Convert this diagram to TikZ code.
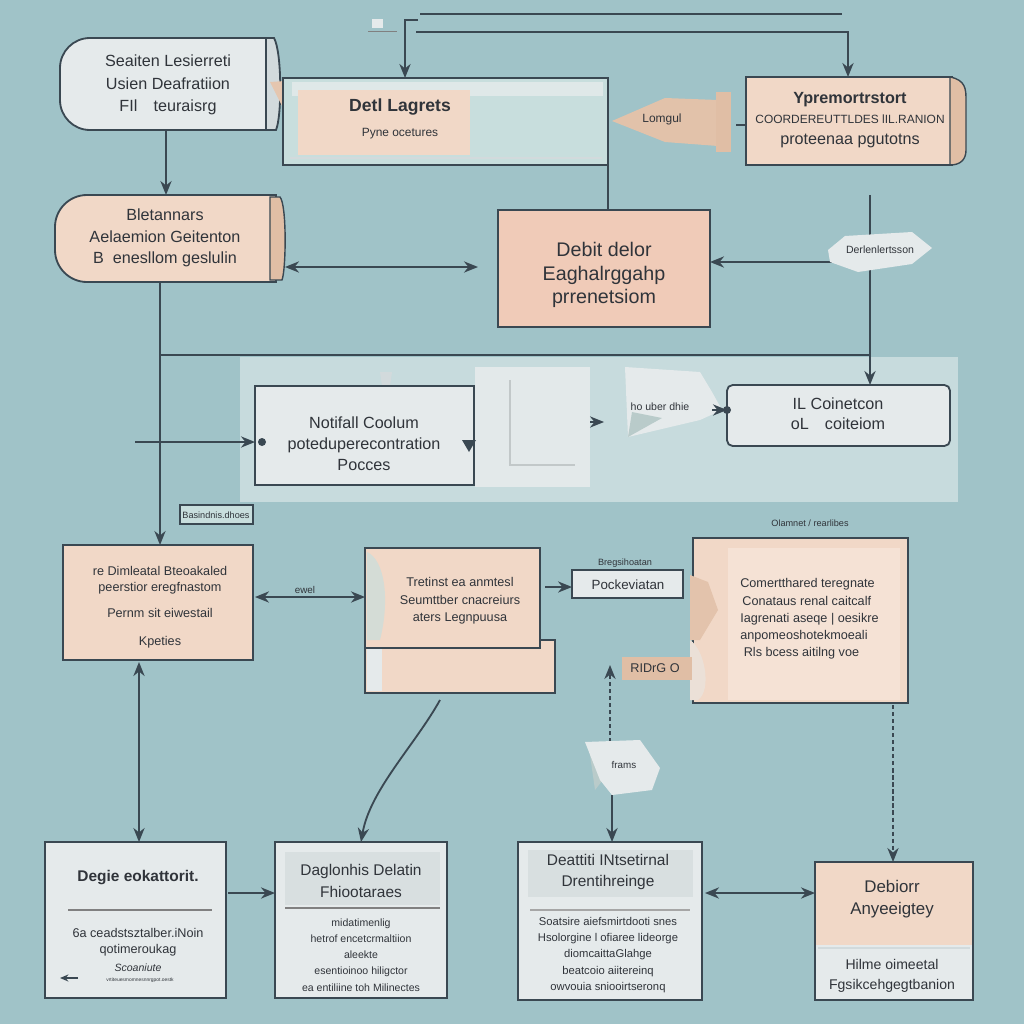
\documentclass[tikz,border=0pt]{standalone}
\usepackage{fontspec}
\setmainfont{Liberation Sans}
\usetikzlibrary{fit,arrows.meta,calc}
\definecolor{bg}{RGB}{160,195,200}
\definecolor{peach}{RGB}{241,216,199}
\definecolor{peachd}{RGB}{240,203,184}
\definecolor{peachl}{RGB}{245,226,213}
\definecolor{curl}{RGB}{224,190,165}
\definecolor{light}{RGB}{229,234,235}
\definecolor{lightd}{RGB}{210,218,220}
\definecolor{lightb}{RGB}{200,222,221}
\definecolor{panel}{RGB}{199,219,221}
\definecolor{edge}{RGB}{58,72,82}
\definecolor{txt}{RGB}{48,52,58}
\newcommand{\fsz}[2]{\fontsize{#1}{#2}\selectfont}
\tikzset{
  line/.style={draw=edge, line width=1.3pt},
  arr/.style={draw=edge, line width=1.3pt, -{Stealth[length=10pt,width=8pt]}},
  darr/.style={draw=edge, line width=1.3pt, {Stealth[length=10pt,width=8pt]}-{Stealth[length=10pt,width=8pt]}},
  frame/.style={inner sep=0pt, outer sep=0pt},
  boxp/.style={frame, draw=edge, line width=1.3pt, fill=peach},
  boxg/.style={frame, draw=edge, line width=1.3pt, fill=light},
  txt/.style={text=txt, align=center, inner sep=0pt},
  tag/.style={frame, draw=edge, line width=0.8pt},
}
\begin{document}
\begin{tikzpicture}[x=0.025cm, y=-0.025cm]
\fill[bg] (0,0) rectangle (1024,1024);
\useasboundingbox (0,0) rectangle (1024,1024);

% ---------- top lines
\coordinate (t0) at (420,14); \coordinate (t1) at (842,14);
\coordinate (tl) at (418,20); \coordinate (tk) at (405,20);
\coordinate (tr) at (416,32); \coordinate (tc) at (848,32);
\fill[light] (372,19) rectangle (383,28);
\draw[gray, line width=0.4pt] (368,31) -- (397,31);

% ---------- box A
\filldraw[fill=light, draw=edge, line width=1.3pt] (270,38) [rounded corners=0.75cm] -- (60,38) -- (60,130) [sharp corners] -- (270,130) -- cycle;
\filldraw[fill=lightd, draw=edge, line width=1.3pt] (266,38) -- (274,38) .. controls (282,52) and (282,116) .. (276,130) -- (266,130) -- cycle;
\node[frame, fit={(60,38) (278,130)}] (A) {};
\node[txt, font=\fsz{11.5}{16}] (At) at (168,85) {Seaiten Lesierreti\\Usien Deafratiion\\FIl\quad teuraisrg};

% ---------- box B
\fill[curl!70!peach] (270,82) -- (300,80) -- (300,108) -- (284,110) -- cycle;
\node[frame, draw=edge, line width=1.3pt, fill=lightb, fit={(283,78) (608,165)}] (B) {};
\fill[light!80!lightb] (292,82) rectangle (603,96);
\fill[peach] (298,90) rectangle (470,155);
\draw[lightd, line width=1pt] (290,158) -- (602,158);
\node[txt] (Bt) at (400,119) {{\fsz{12.5}{16}\bfseries Detl Lagrets}\\[6pt]{\fsz{8.5}{10}Pyne ocetures}};

% ---------- box C
\node[frame, fit={(746,77) (965,165)}] (C) {};
\filldraw[fill=peach, draw=edge, line width=1.3pt] (746,77) rectangle (952,165);
\filldraw[fill=curl, draw=edge, line width=1pt] (950,77) .. controls (966,80) and (966,90) .. (966,100) -- (966,150) .. controls (966,160) and (960,165) .. (950,165) -- cycle;
\node[txt] (Ct) at (850,120) {{\fsz{11.5}{14}\bfseries Ypremortrstort}\\[2pt]{\fsz{8.5}{10}COORDEREUTTLDES lIL.RANION}\\[3pt]{\fsz{11.5}{14}proteenaa pgutotns}};

% pennant
\fill[curl!85!peach] (612,121) -- (665,98) -- (718,100) -- (718,146) -- (665,142) -- cycle;
\fill[curl] (716,92) rectangle (731,152);
\node[txt, font=\fsz{8.5}{10}] (Fl) at (662,119) {Lomgul};
\coordinate (flE) at (736,125);

% ---------- box D
\filldraw[fill=peach, draw=edge, line width=1.3pt] (276,195) [rounded corners=0.8cm] -- (55,195) -- (55,282) [sharp corners] -- (276,282) -- cycle;
\filldraw[fill=curl, draw=edge, line width=1pt] (270,197) -- (280,197) .. controls (287,205) and (286,270) .. (282,280) -- (270,280) -- cycle;
\node[frame, fit={(55,195) (285,282)}] (D) {};
\node[txt, font=\fsz{11.5}{15.5}] (Dt) at (165,238) {Bletannars\\Aelaemion Geitenton\\B\; enesllom geslulin};

% ---------- box E
\node[frame, draw=edge, line width=1.3pt, fill=peachd, fit={(498,210) (710,327)}] (E) {};
\node[txt, font=\fsz{14}{16.5}] (Et) at (604,275) {Debit delor\\Eaghalrggahp\\prrenetsiom};

% ---------- middle panel
\fill[panel] (240,357) rectangle (958,502);
\fill[light!92!panel] (475,367) rectangle (590,487);
\node[frame, fit={(475,367) (590,487)}] (Fs) {};
\draw[lightd!80!gray, line width=1.5pt] (510,380) -- (510,465) -- (575,465);
\fill[lightd] (380,372) -- (392,372) -- (390,386) -- (382,386) -- cycle;

% ---------- box F
\node[boxg, fit={(255,386) (474,485)}] (F) {};
\node[txt, font=\fsz{11.5}{15}] (Ft) at (364,444) {Notifall Coolum\\poteduperecontration\\Pocces};

% paper before G
\fill[light] (625,367) -- (700,372) -- (712,392) -- (722,410) -- (700,420) -- (628,437) -- cycle;
\fill[lightb!80!gray] (628,437) -- (632,412) -- (662,418) -- cycle;
\node[frame, fit={(625,367) (722,437)}] (Pg) {};
\node[txt, font=\fsz{7.5}{9}] (Pgt) at (660,407) {ho uber dhie};

% ---------- box G
\node[boxg, rounded corners=4pt, fit={(727,385) (950,446)}] (G) {};
\node[txt, font=\fsz{11.5}{14.5}] (Gt) at (838,414) {IL Coinetcon\\oL\quad coiteiom};

% small label
\node[tag, fill=lightb, fit={(180,505) (253,524)}] (Lb) {};
\node[txt, font=\fsz{6.5}{8}] (Lbt) at (216,515) {Basindnis.dhoes};

% ---------- box H
\node[boxp, fit={(63,545) (253,660)}] (H) {};
\node[txt, font=\fsz{9}{12}] (Ht) at (160,607) {re Dimleatal Bteoakaled\\peerstior eregfnastom\\[6pt]Pernm sit eiwestail\\[8pt]Kpeties};

% ---------- box I
\node[boxp, fit={(365,640) (555,693)}] (I2) {};
\fill[light] (367,648) rectangle (382,691);
\node[boxp, fit={(365,548) (540,648)}] (I) {};
\fill[lightb!70!peach] (367,552) .. controls (385,560) and (390,600) .. (380,640) -- (367,640) -- cycle;
\node[txt, font=\fsz{9}{12.5}] (It) at (460,601) {Tretinst ea anmtesl\\Seumttber cnacreiurs\\aters Legnpuusa};

% ---------- P box
\node[tag, fill=light, fit={(572,570) (683,598)}] (P) {};
\node[txt, font=\fsz{9.5}{11}] (Pt) at (628,585) {Pockeviatan};
\node[txt, font=\fsz{6.5}{8}] (Pl) at (625,563) {Bregsihoatan};

% ---------- box J
\node[boxp, fit={(693,538) (908,703)}] (J) {};
\fill[peachl] (728,548) rectangle (900,700);
\fill[curl!80!peach] (690,575) -- (708,582) -- (718,610) -- (700,640) -- (690,640) -- cycle;
\fill[peachl!70!lightd] (690,640) .. controls (705,650) and (712,690) .. (698,700) -- (690,700) -- cycle;
\node[txt, font=\fsz{6.5}{8}] (Jl) at (810,523) {Olamnet / rearlibes};
\node[txt, align=left, anchor=west, font=\fsz{9}{12.2}] (Jt) at (740,619) {Comertthared teregnate\\\,Conataus renal caitcalf\\Iagrenati aseqe | oesikre\\anpomeoshotekmoeali\\\;Rls bcess aitilng voe};

% R tag
\node[frame, fill=curl, fit={(622,657) (692,680)}] (R) {};
\node[txt, font=\fsz{9}{10}] (Rt) at (655,668) {RIDrG O};

% ---------- bottom boxes
\node[boxg, fit={(45,842) (226,998)}] (K) {};
\node[txt, font=\fsz{11}{13}\bfseries] (K1) at (138,878) {Degie eokattorit.};
\draw[gray, line width=1pt] (68,910) -- (212,910);
\node[txt, font=\fsz{9}{11}] (K2) at (138,942) {6a ceadstsztalber.iNoin\\qotimeroukag};
\node[txt, font=\fsz{7.5}{9}\itshape] (K3) at (138,968) {Scoaniute};
\node[txt, font=\fsz{3.5}{4}] (K4) at (140,980) {vrtiteuesmomnesnnrgpot.oestk};

\node[boxg, fit={(275,842) (447,998)}] (L) {};
\fill[lightd!70!light] (285,852) rectangle (440,905);
\draw[gray, line width=0.8pt] (285,908) -- (440,908);
\node[txt, font=\fsz{11}{15}] (L1) at (361,881) {Daglonhis Delatin\\Fhiootaraes};
\node[txt, font=\fsz{7.5}{11.5}] (L2) at (361,955) {midatimenlig\\hetrof encetcrmaltiion\\aleekte\\esentioinoo hiligctor\\ea entiliine toh Milinectes};

\node[boxg, fit={(518,842) (702,1000)}] (M) {};
\fill[lightd!70!light] (528,850) rectangle (693,897);
\draw[gray!70, line width=0.8pt] (530,910) -- (690,910);
\node[txt, font=\fsz{11}{15.5}] (M1) at (608,872) {Deattiti INtsetirnal\\Drentihreinge};
\node[txt, font=\fsz{8}{11.5}] (M2) at (608,955) {Soatsire aiefsmirtdooti snes\\Hsolorgine l ofiaree lideorge\\diomcaittaGlahge\\beatcoio aiitereinq\\owvouia sniooirtseronq};

\node[frame, fit={(815,862) (973,1000)}] (N) {};
\fill[light] (815,945) rectangle (973,1000);
\fill[peach] (815,862) rectangle (973,945);
\draw[lightd, line width=1.5pt] (818,948) -- (970,948);
\draw[line] (815,862) rectangle (973,1000);
\node[txt, font=\fsz{12}{16}] (N1) at (892,899) {Debiorr\\Anyeeigtey};
\node[txt, font=\fsz{10}{14}] (N2) at (892,976) {Hilme oimeetal\\Fgsikcehgegtbanion};

% ---------- connectors
\draw[line] (t0) -- (t1);
\draw[arr] (tl) -- (tk) -- (tk |- B.north);
\draw[arr] (tr) -- (tc) -- (tc |- C.north);
\draw[line] (flE) -- (C.west |- flE);
\coordinate (ad) at (166,130);
\draw[arr] (ad) -- (ad |- D.north);
\draw[line] (B.south east) -- (B.south east |- E.north);
\coordinate (de) at (478,267);
\draw[darr] (de -| D.east) -- (de);
\coordinate (v1) at (870,195);
\draw[arr] (v1) -- (v1 |- G.north);
\coordinate (hw) at (838,262);
\draw[arr] (hw) -- (hw -| E.east);
\coordinate (dv) at (160,282);
\draw[arr] (dv) -- (dv |- H.north);
\coordinate (h1) at (160,355); \coordinate (h2) at (870,355);
\draw[line] (h1) -- (h2);
\coordinate (fi) at (135,442);
\draw[arr] (fi) -- (fi -| F.west);
\fill[edge] (262,442) circle (4);
\fill[edge] (462,440) -- (476,440) -- (469,452) -- cycle;
\coordinate (fsx) at (604,422);
\draw[arr, line width=1pt] (Fs.east |- fsx) -- (fsx);
\coordinate (pgx) at (712,410);
\draw[arr] (pgx) -- (pgx -| G.west);
\fill[edge] (727,410) circle (4);
\coordinate (hi) at (255,597);
\draw[darr] (hi) -- (hi -| I.west);
\node[txt, font=\fsz{7}{8}] (hil) at (305,590) {ewel};
\coordinate (ip) at (545,587);
\draw[arr, line width=1pt] (ip) -- (ip -| P.west);
\coordinate (hk) at (139,662);
\draw[darr] (hk) -- (hk |- K.north);
\coordinate (ic) at (440,700);
\draw[arr] (ic) .. controls (415,745) and (370,790) .. (L.north);
\coordinate (rup) at (610,665);
\coordinate (fb) at (610,742);
\draw[arr, densely dashed, line width=1pt] (fb) -- (rup);
\coordinate (fm) at (612,795);
\draw[arr] (fm) -- (fm |- M.north);
\coordinate (jn) at (893,705);
\draw[arr, densely dashed, line width=1pt] (jn) -- (jn |- N.north);
\coordinate (kl) at (228,893);
\draw[arr] (kl) -- (kl -| L.west);
\coordinate (mn) at (705,893);
\draw[darr] (mn) -- (mn -| N.west);
\draw[edge, line width=1pt, -{Stealth[length=6pt,width=5pt]}] (78,978) -- (60,978);

% items above connectors
\filldraw[fill=light, draw=none] (828,250) -- (845,236) -- (912,232) -- (932,248) -- (912,264) -- (858,272) -- (830,262) -- cycle;
\node[txt, font=\fsz{7.5}{9}] (Hex) at (880,250) {Derlenlertsson};
\fill[lightb!80!gray] (590,755) -- (612,768) -- (595,790) -- cycle;
\fill[light] (585,742) -- (640,740) -- (660,768) -- (652,790) -- (612,795) -- (600,780) -- cycle;
\node[txt, font=\fsz{7}{8}] (Fr) at (624,765) {frams};
\end{tikzpicture}
\end{document}
